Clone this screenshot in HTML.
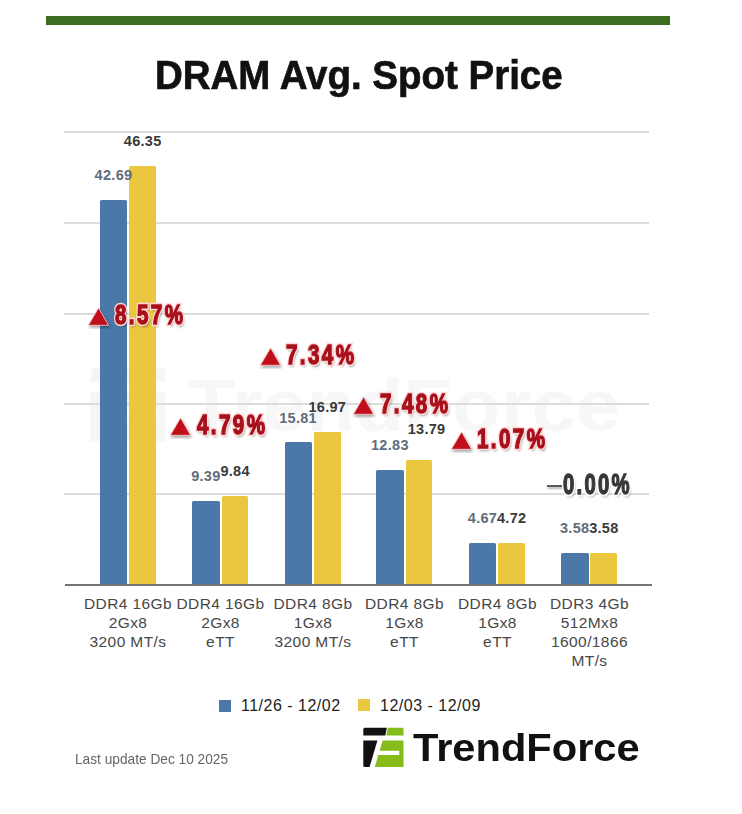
<!DOCTYPE html>
<html><head><meta charset="utf-8"><style>
html,body{margin:0;padding:0;background:#fff;}
body{width:742px;height:814px;position:relative;overflow:hidden;font-family:"Liberation Sans",sans-serif;}
.a{position:absolute;}
.bar{position:absolute;border-radius:1.5px 1.5px 0 0;}
.b{background:#4b78a9;}
.y{background:#ebc63f;}
.grid{position:absolute;left:64px;width:585px;height:1.5px;background:#dcdcdc;}
.lbl{position:absolute;font-weight:bold;font-size:14.5px;letter-spacing:0.3px;line-height:1;white-space:nowrap;transform:translateX(-50%);}
.lb{color:#5f6d7b;}
.ly{color:#3a3a3a;}
.cat{position:absolute;width:110px;text-align:center;font-size:15.5px;line-height:19px;color:#474747;letter-spacing:0.4px;}
.pct{position:absolute;font-weight:bold;font-size:27px;line-height:1;white-space:nowrap;transform-origin:0 0;letter-spacing:3.2px;}
.pct span{position:absolute;left:0;top:0;}
.pct .o{color:#ffd8d8;-webkit-text-stroke:4.4px #ffd8d8;text-shadow:0 0 3px #ffd0d0,2px 3px 3px rgba(0,0,0,.4);}
.pct .f{color:#a8101c;-webkit-text-stroke:1.4px #a8101c;}
.pct.g .o{color:#fff;-webkit-text-stroke:5px #fff;}
.pct.g .f{color:#383838;-webkit-text-stroke:1.4px #383838;}
.tri{position:absolute;width:0;height:0;}
</style></head><body>

<div class="a" style="left:46px;top:16px;width:624px;height:9px;background:#3a6d1f"></div>
<div class="a" style="left:154.5px;top:54.9px;font-size:40px;font-weight:bold;color:#111;line-height:1;white-space:nowrap;transform-origin:0 0;transform:scaleX(0.962);-webkit-text-stroke:0.7px #111">DRAM Avg. Spot Price</div>
<div class="a" style="left:187px;top:368.5px;font-size:74px;font-weight:bold;color:#f7f7f7;line-height:1;white-space:nowrap;transform-origin:0 0;transform:scaleX(1.075)">TrendForce</div>
<svg class="a" style="left:0;top:0" width="742" height="814"><g transform="translate(90,368) scale(1.87) translate(-363.3,-727.7)" fill="#f6f6f6"><path d="M364.5,727.7 L403.5,727.7 L403.5,735.4 L363.3,735.4 Z"/><path d="M363.3,740.6 L377.4,740.6 L369.6,767 L363.3,767 Z"/><path d="M382.6,740.6 L403.5,740.6 L403.5,767 L374.9,767 L378.2,754.9 L399.3,754.9 L399.3,750.7 L379.5,750.7 Z"/></g></svg>
<div class="grid" style="top:131.25px"></div>
<div class="grid" style="top:222.25px"></div>
<div class="grid" style="top:313.25px"></div>
<div class="grid" style="top:403.25px"></div>
<div class="grid" style="top:493.25px"></div>
<div class="bar b" style="left:100px;top:200px;width:27.4px;height:385px"></div>
<div class="bar y" style="left:129.2px;top:165.6px;width:26.9px;height:419.4px"></div>
<div class="bar b" style="left:192.4px;top:500.6px;width:27.4px;height:84.39999999999998px"></div>
<div class="bar y" style="left:221.6px;top:496px;width:26.9px;height:89px"></div>
<div class="bar b" style="left:284.6px;top:442.3px;width:27.4px;height:142.7px"></div>
<div class="bar y" style="left:313.8px;top:432.1px;width:26.9px;height:152.89999999999998px"></div>
<div class="bar b" style="left:376.4px;top:469.6px;width:27.4px;height:115.39999999999998px"></div>
<div class="bar y" style="left:405.59999999999997px;top:460px;width:26.9px;height:125px"></div>
<div class="bar b" style="left:469px;top:542.6px;width:27.4px;height:42.39999999999998px"></div>
<div class="bar y" style="left:498.2px;top:542.9px;width:26.9px;height:42.10000000000002px"></div>
<div class="bar b" style="left:561.2px;top:553.4px;width:27.4px;height:31.600000000000023px"></div>
<div class="bar y" style="left:590.4000000000001px;top:553.4px;width:26.9px;height:31.600000000000023px"></div>
<div class="a" style="left:65px;top:584px;width:587px;height:2px;background:#747474"></div>
<div class="lbl lb" style="left:113.5px;top:168.0px">42.69</div>
<div class="lbl ly" style="left:142.7px;top:133.6px">46.35</div>
<div class="lbl lb" style="left:205.9px;top:468.6px">9.39</div>
<div class="lbl ly" style="left:235.1px;top:464.0px">9.84</div>
<div class="lbl lb" style="left:298.1px;top:411.3px">15.81</div>
<div class="lbl ly" style="left:327.3px;top:400.1px">16.97</div>
<div class="lbl lb" style="left:389.9px;top:437.6px">12.83</div>
<div class="lbl ly" style="left:426.59999999999997px;top:422.0px">13.79</div>
<div class="lbl lb" style="left:482.5px;top:510.6px">4.67</div>
<div class="lbl ly" style="left:511.7px;top:510.9px">4.72</div>
<div class="lbl lb" style="left:574.7px;top:521.4px">3.58</div>
<div class="lbl ly" style="left:603.9000000000001px;top:521.4px">3.58</div>
<svg class="a" style="left:87px;top:304.7px" width="24" height="24" viewBox="0 0 24 24"><polygon points="1.3,20.3 11.6,2.8 21.6,20.3" fill="#c00f1b" stroke="#ffd8d8" stroke-width="0.8" style="filter:drop-shadow(1px 2px 1.5px rgba(0,0,0,.35))"/></svg>
<div class="pct" style="left:114.5px;top:302px;transform:scaleX(0.76)"><span class="o">8.57%</span><span class="f">8.57%</span></div>
<svg class="a" style="left:168.5px;top:414.7px" width="24" height="24" viewBox="0 0 24 24"><polygon points="1.3,20.3 11.6,2.8 21.6,20.3" fill="#c00f1b" stroke="#ffd8d8" stroke-width="0.8" style="filter:drop-shadow(1px 2px 1.5px rgba(0,0,0,.35))"/></svg>
<div class="pct" style="left:196.9px;top:412px;transform:scaleX(0.76)"><span class="o">4.79%</span><span class="f">4.79%</span></div>
<svg class="a" style="left:259px;top:344.7px" width="24" height="24" viewBox="0 0 24 24"><polygon points="1.3,20.3 11.6,2.8 21.6,20.3" fill="#c00f1b" stroke="#ffd8d8" stroke-width="0.8" style="filter:drop-shadow(1px 2px 1.5px rgba(0,0,0,.35))"/></svg>
<div class="pct" style="left:286.2px;top:342px;transform:scaleX(0.76)"><span class="o">7.34%</span><span class="f">7.34%</span></div>
<svg class="a" style="left:352px;top:393.7px" width="24" height="24" viewBox="0 0 24 24"><polygon points="1.3,20.3 11.6,2.8 21.6,20.3" fill="#c00f1b" stroke="#ffd8d8" stroke-width="0.8" style="filter:drop-shadow(1px 2px 1.5px rgba(0,0,0,.35))"/></svg>
<div class="pct" style="left:379.5px;top:391px;transform:scaleX(0.76)"><span class="o">7.48%</span><span class="f">7.48%</span></div>
<svg class="a" style="left:450px;top:428.7px" width="24" height="24" viewBox="0 0 24 24"><polygon points="1.3,20.3 11.6,2.8 21.6,20.3" fill="#c00f1b" stroke="#ffd8d8" stroke-width="0.8" style="filter:drop-shadow(1px 2px 1.5px rgba(0,0,0,.35))"/></svg>
<div class="pct" style="left:476.9px;top:426px;transform:scaleX(0.76)"><span class="o">1.07%</span><span class="f">1.07%</span></div>
<div class="a" style="left:546.5px;top:485px;width:15px;height:1.8px;background:#5a5a5a;box-shadow:1px 2px 2px rgba(0,0,0,.3)"></div>
<div class="pct g" style="left:562.5px;top:469.5px;font-size:29px;transform:scaleX(0.70)"><span class="o">0.00%</span><span class="f">0.00%</span></div>
<div class="cat" style="left:73px;top:593.6px">DDR4 16Gb<br>2Gx8<br>3200 MT/s</div>
<div class="cat" style="left:165.5px;top:593.6px">DDR4 16Gb<br>2Gx8<br>eTT</div>
<div class="cat" style="left:258px;top:593.6px">DDR4 8Gb<br>1Gx8<br>3200 MT/s</div>
<div class="cat" style="left:349.5px;top:593.6px">DDR4 8Gb<br>1Gx8<br>eTT</div>
<div class="cat" style="left:442.5px;top:593.6px">DDR4 8Gb<br>1Gx8<br>eTT</div>
<div class="cat" style="left:534.5px;top:593.6px">DDR3 4Gb<br>512Mx8<br>1600/1866<br>MT/s</div>
<div class="a" style="left:219px;top:699.5px;width:12px;height:12px;background:#4b78a9"></div>
<div class="a" style="left:241px;top:698px;font-size:16px;line-height:1;color:#222;white-space:nowrap;letter-spacing:0.5px">11/26 - 12/02</div>
<div class="a" style="left:358px;top:699px;width:12px;height:12px;background:#ebc63f"></div>
<div class="a" style="left:380px;top:698px;font-size:16px;line-height:1;color:#222;white-space:nowrap;letter-spacing:0.5px">12/03 - 12/09</div>
<div class="a" style="left:75px;top:750.5px;font-size:15px;line-height:1;color:#666;white-space:nowrap;transform-origin:0 0;transform:scaleX(0.913)">Last update Dec 10 2025</div>
<svg class="a" style="left:360px;top:724px" width="48" height="48" viewBox="360 724 48 48">
<path d="M364.5,727.7 L386.9,727.7 L385.3,735.4 L363.3,735.4 L363.3,729 Z" fill="#111"/>
<path d="M387.9,727.7 L402.5,727.7 Q403.5,727.7 403.5,729 L403.5,735.4 L386.3,735.4 Z" fill="#86bc1a"/>
<path d="M363.3,740.6 L377.4,740.6 L369.6,767 L364.5,767 Q363.3,767 363.3,765.5 Z" fill="#111"/>
<path d="M382.6,740.6 L403.5,740.6 L403.5,767 L374.9,767 L378.2,754.9 L399.3,754.9 L399.3,750.7 L379.5,750.7 Z" fill="#86bc1a"/>
</svg>
<div class="a" style="left:413px;top:728.5px;font-size:38.5px;font-weight:bold;line-height:1;color:#111;white-space:nowrap;transform-origin:0 0;transform:scaleX(1.081)">TrendForce</div>
</body></html>
